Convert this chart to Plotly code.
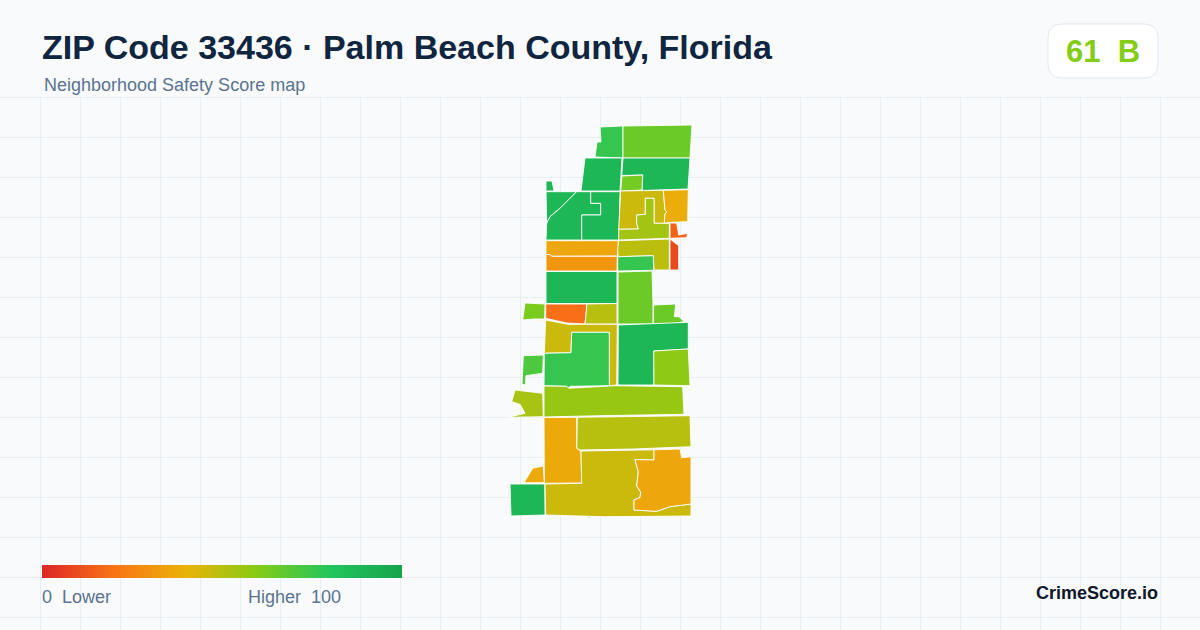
# === IMPORTS ===
import plotly.graph_objects as go
from plotly.colors import sample_colorscale


# === DATA ===
TITLE = "ZIP Code 33436 · Palm Beach County, Florida"
SUBTITLE = "Neighborhood Safety Score map"
SCORE = "61\u00a0\u00a0B"
BRAND = "CrimeScore.io"
LEGEND_LOW = "0\u00a0\u00a0Lower"
LEGEND_HIGH = "Higher\u00a0\u00a0100"

STOPS = [0, 20, 40, 60, 80, 100]
STOP_COLORS = ["#dc2626", "#f97316", "#eab308", "#84cc16", "#22c55e", "#16a34a"]

# tract outlines
TOP_LEFT = [(600, 127), (623, 126), (623, 158), (595, 157), (597, 142), (601, 142)]
TOP_RIGHT = [(623, 126), (658, 125.5), (692, 125), (690, 158), (623, 158)]
NORTH_WEST = [(585, 158), (622, 158), (620, 191), (581, 191)]
NORTH_EAST = [(623, 158), (690, 158), (688, 189), (663, 190), (642, 190.5), (642.7, 175), (621.7, 175.5)]
NORTH_NOTCH = [(622, 176), (642.7, 175), (642, 190), (620.7, 191)]
TINY_NORTH = [(546, 181), (552, 181), (554, 191), (546, 191)]
WEDGE = [(546, 191.7), (576.7, 191.7), (560, 208.3), (550, 216.7), (546.7, 223.3)]
WEST_A = [(576.7, 191.7), (590.7, 191.7), (590.7, 203.3), (600.7, 203.3), (600.7, 215), (581.7, 215), (581.7, 240),
          (546, 240), (546.7, 223.3), (550, 216.7), (560, 208.3)]
WEST_B = [(590.7, 191.7), (620, 191.7), (619, 240), (581.7, 240), (581.7, 215), (600.7, 215), (600.7, 203.3),
          (590.7, 203.3)]
OLIVE_NORTH = [(620.7, 191), (663.3, 190.3), (665, 210), (666.7, 211.7), (665, 214), (664.3, 223.3), (654, 223.3),
               (654, 198.3), (645.3, 198.3), (645.3, 214.3), (636.7, 215), (636.7, 223.3), (638.3, 229),
               (618.7, 229.3)]
LIME_INSET = [(645.3, 198.3), (654, 198.3), (654, 223.3), (664.3, 223.3), (669.3, 223.3), (669.3, 238.3),
              (631.7, 239.3), (618.7, 240), (618.7, 229.3), (638.3, 229), (636.7, 223.3), (636.7, 215), (645.3, 214.3)]
YELLOW_EAST = [(663.3, 190.3), (688.3, 189.7), (687.7, 221.7), (670, 222.3), (664.3, 223.3), (665, 214), (666.7, 211.7),
               (665, 210)]
RED_UPPER = [(670, 223), (676.7, 223), (678.7, 235), (687.7, 233.3), (686.7, 237.7), (670, 238.3)]
RED_LOWER = [(670, 239), (678.7, 245.7), (678.7, 270), (670, 270)]
OLIVE_EAST = [(618.7, 240.7), (669.3, 239), (669.3, 270), (654, 270), (653.3, 255.7), (618.3, 256.7), (617.3, 248.3)]
GREEN_SMALL = [(617.7, 256.7), (653.3, 255.7), (653.7, 270.3), (617.7, 271)]
ORANGE_UPPER = [(546, 240.7), (618.3, 240.7), (617.3, 256), (551.7, 256.3), (550, 254.5), (546, 254.5)]
ORANGE_LOWER = [(546, 254.5), (550, 254.5), (551.7, 256.3), (617.3, 256.3), (617, 271), (546, 271)]
MID_GREEN = [(546, 271.5), (617, 271.5), (617, 303.5), (546, 303.5)]
MID_LIME = [(618, 272), (652, 271), (653, 304), (653, 324), (618, 324)]
EAST_LIME = [(653.7, 305), (675.7, 304), (674.4, 316.7), (679, 316.7), (684.3, 321.7), (669, 324), (653.3, 325)]
WEST_LIME = [(525, 303), (545, 304), (544.7, 319), (534, 319), (522.7, 320)]
WEST_SLIVER = [(534.5, 319.6), (544.5, 319.6), (544.5, 320.6), (534.5, 320.6)]
ORANGE_RED = [(545.7, 304), (587, 304), (585, 324), (566.7, 323), (545.7, 318.3)]
OLIVE_MID = [(587, 304), (617, 303.5), (617, 324), (585, 324)]
OLIVE_BAND = [(545.7, 320), (568, 324.3), (617.3, 324.3), (616.7, 385), (609.3, 385.7), (609.3, 332.3), (571.7, 332.3),
              (571, 352.7), (544.3, 353.3), (545, 335)]
LIGHT_GREEN = [(571.7, 332.3), (609.3, 332.3), (609.3, 385.7), (570, 386.3), (568, 388.3), (566.7, 386.3), (544, 385.7),
               (544.3, 353.3), (571, 352.7)]
DARK_GREEN = [(618.3, 325), (688.3, 322.3), (688.3, 349), (653.7, 351), (654, 385), (618, 385)]
LIME_SQUARE = [(653.7, 351), (688.3, 349), (690, 385.7), (654, 385)]
WEST_GREEN = [(523.3, 355.7), (543.3, 355), (542.7, 373.3), (526, 375.7), (525.3, 385), (522, 384.3)]
WEST_OLIVE = [(515, 390), (542.7, 393.3), (543.3, 416.7), (508.3, 417.3), (525, 413.3), (520, 404.3), (511.7, 401.7)]
LIME_BAND = [(544, 386), (566.7, 386.3), (568.7, 388.3), (615, 385.7), (682.7, 386.7), (684, 414.3), (600, 415.7),
             (544, 417)]
OLIVE_BAND_SOUTH = [(577.3, 417.3), (690, 415.7), (691, 446.7), (633.3, 449), (580, 450), (576.7, 448.3)]
ORANGE_WEST = [(544, 417.5), (576.7, 417.3), (576.7, 448.3), (581, 451), (581.7, 483), (544.3, 483.3)]
ORANGE_TIP = [(524, 482.7), (532.7, 468.3), (543.3, 466), (544.3, 482.7)]
GREEN_SOUTH = [(510, 484), (544.8, 484), (545, 515), (511, 516)]
OLIVE_SOUTH = [(545, 484), (581.7, 483.3), (581, 451), (654, 449.8), (654, 460), (635, 459.5), (638.3, 472),
               (636.7, 486), (640.7, 492), (640, 497.5), (634, 500), (634, 510), (656.7, 511.3), (670, 506.7),
               (691, 504), (691, 516), (603.3, 516.7), (545.7, 515)]
ORANGE_SOUTH = [(654, 449.8), (680, 449), (681.7, 457.7), (691, 456.7), (691, 504), (670, 506.7), (656.7, 511.3),
                (634, 510), (634, 500), (640, 497.5), (640.7, 492), (636.7, 486), (638.3, 472), (635, 459.5),
                (654, 460)]
TINY_SOUTH = [(587.3, 516.8), (590.7, 516.8), (590.7, 517.8), (587.3, 517.8)]

ZONES = [TOP_LEFT, TOP_RIGHT, NORTH_WEST, NORTH_EAST, NORTH_NOTCH, TINY_NORTH, WEDGE, WEST_A, WEST_B, OLIVE_NORTH,
         LIME_INSET, YELLOW_EAST, RED_UPPER, RED_LOWER, OLIVE_EAST, GREEN_SMALL, ORANGE_UPPER, ORANGE_LOWER, MID_GREEN,
         MID_LIME, EAST_LIME, WEST_LIME, WEST_SLIVER, ORANGE_RED, OLIVE_MID, OLIVE_BAND, LIGHT_GREEN, DARK_GREEN,
         LIME_SQUARE, WEST_GREEN, WEST_OLIVE, LIME_BAND, OLIVE_BAND_SOUTH, ORANGE_WEST, ORANGE_TIP, GREEN_SOUTH,
         OLIVE_SOUTH, ORANGE_SOUTH, TINY_SOUTH]
ZONE_SCORES = [76, 65, 88, 88, 63, 88, 88, 88, 88, 46,
               54, 38, 16, 9, 49, 76, 36, 31, 88,
               65, 65, 62, 38, 19, 50, 46, 76, 88,
               58, 71, 53, 56, 50, 37, 37, 88,
               46, 36, 88]


# === STYLE ===
BG = "#f8fafc"
GRID = "#e6eff4"
FONT = "Liberation Sans"
COLORSCALE = [[s / 100, c] for s, c in zip(STOPS, STOP_COLORS)]


# === FIGURE ===
fig = go.Figure()

for zone, score in zip(ZONES, ZONE_SCORES):
    xs = [p[0] for p in zone] + [zone[0][0]]
    ys = [p[1] for p in zone] + [zone[0][1]]
    fig.add_trace(go.Scatter(
        x=xs, y=ys, mode="lines", fill="toself",
        fillcolor=sample_colorscale(COLORSCALE, score / 100)[0],
        line=dict(color="#ffffff", width=0.9),
        hoverinfo="skip", showlegend=False,
    ))

# legend bar, only there for its colorbar
fig.add_trace(go.Scatter(
    x=[None], y=[None], mode="markers", hoverinfo="skip", showlegend=False,
    marker=dict(
        color=[0], cmin=0, cmax=100, colorscale=COLORSCALE, showscale=True,
        colorbar=dict(
            orientation="h", x=42 / 1200, xanchor="left", y=1 - 578 / 630, yanchor="bottom",
            len=360, lenmode="pixels", thickness=13, thicknessmode="pixels",
            xpad=0, ypad=0, outlinewidth=0, ticks="", showticklabels=False,
        ),
    ),
))


def add_text(text, x, y, size, color, bold=False, anchor="left"):
    fig.add_annotation(
        text=f"<b>{text}</b>" if bold else text,
        x=x, y=y, xref="x", yref="y", xanchor=anchor, yanchor="middle",
        showarrow=False, xshift=0, align=anchor,
        font=dict(family=FONT, size=size, color=color),
    )


add_text(TITLE, 40, 47, 34, "#0f2540", bold=True)
add_text(SUBTITLE, 42, 85, 18, "#5b7390")
add_text(SCORE, 1103, 51, 31, "#84cc16", bold=True, anchor="center")
add_text(LEGEND_LOW, 40, 597, 18, "#5b7390")
add_text(LEGEND_HIGH, 343, 597, 18, "#5b7390", anchor="right")
add_text(BRAND, 1160, 593, 18, "#0f172a", bold=True, anchor="right")

# header hides the grid, badge sits on top of it
fig.add_shape(type="rect", x0=0, x1=1200, y0=0, y1=96.5, layer="between",
              fillcolor=BG, line=dict(width=0))
fig.add_shape(
    type="path",
    path="M 1062 24 L 1144 24 Q 1158 24 1158 38 L 1158 64 Q 1158 78 1144 78 "
         "L 1062 78 Q 1048 78 1048 64 L 1048 38 Q 1048 24 1062 24 Z",
    fillcolor="#ffffff", line=dict(color="#e2e8f0", width=1), layer="between",
)

fig.update_xaxes(range=[0, 1200], tick0=0.5, dtick=40, showgrid=True, gridcolor=GRID, gridwidth=1,
                 zeroline=False, showticklabels=False, ticks="", fixedrange=True)
fig.update_yaxes(range=[630, 0], tick0=97, dtick=40, showgrid=True, gridcolor=GRID, gridwidth=1,
                 zeroline=False, showticklabels=False, ticks="", fixedrange=True)
fig.update_layout(
    width=1200, height=630,
    margin=dict(l=0, r=0, t=0, b=0, pad=0, autoexpand=False),
    paper_bgcolor=BG, plot_bgcolor=BG,
    showlegend=False,
)

# the page's default body margin would shift everything by 8px
fig.write_html("out.html", config={"displayModeBar": False},
               post_script="document.body.style.margin='0';")
